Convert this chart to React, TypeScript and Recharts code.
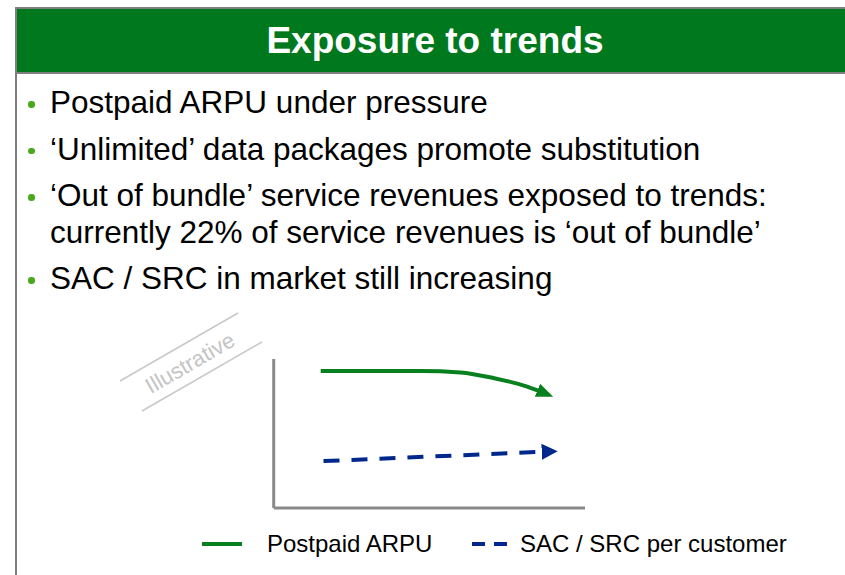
import { LineChart, Line, XAxis, YAxis } from "recharts"

// illustrative trend lines (0-100 scale)
const arpuX = [15.1, 47.2, 60.0, 70.5, 81.4, 88.3]
const arpuY = [92.0, 92.0, 91.0, 87.3, 81.5, 76.0]
const sacX = [16.0, 89.3]
const sacY = [31.5, 38.0]

const bullets = [
  ["Postpaid ARPU under pressure"],
  ["‘Unlimited’ data packages promote substitution"],
  ["‘Out of bundle’ service revenues exposed to trends:", "currently 22% of service revenues is ‘out of bundle’"],
  ["SAC / SRC in market still increasing"],
]

const legendLabels = ["Postpaid ARPU", "SAC / SRC per customer"]

// one table for the chart, each series filled only at its own x points
const chartData = [
  ...arpuX.map((x, i) => ({ x, arpu: arpuY[i] as number | null, sac: null as number | null })),
  ...sacX.map((x, i) => ({ x, arpu: null as number | null, sac: sacY[i] as number | null })),
].sort((a, b) => a.x - b.x)

const GREEN = "#00781e"
const LINE_GREEN = "#08801f"
const BLUE = "#00288c"
const AXIS = "#8a8a8a"
const FONT = "'Liberation Sans', Arial, sans-serif"

function Bullets() {
  const rows: { text: string; top: number; dot: boolean }[] = []
  let top = 84
  bullets.forEach((lines) => {
    lines.forEach((t, j) => {
      rows.push({ text: t, top, dot: j === 0 })
      top += 36.5
    })
    top += 10
  })
  return (
    <>
      {rows.map((r, i) => (
        <div key={i}>
          {r.dot && (
            <div
              style={{
                position: "absolute",
                left: 28,
                top: r.top + 17,
                width: 6.5,
                height: 6.5,
                borderRadius: "50%",
                background: "#4aa81c",
              }}
            />
          )}
          <div
            style={{
              position: "absolute",
              left: 50,
              top: r.top,
              fontSize: 31.5,
              lineHeight: "36px",
              whiteSpace: "nowrap",
              color: "#000",
            }}
          >
            {r.text}
          </div>
        </div>
      ))}
    </>
  )
}

function Illustrative() {
  return (
    <svg width={300} height={130} style={{ position: "absolute", left: 100, top: 300 }}>
      <g transform="translate(-100,-300)">
        <line x1={120} y1={381} x2={238} y2={313} stroke="#c8c8c8" strokeWidth={1.5} />
        <line x1={142} y1={411} x2={262} y2={342} stroke="#c8c8c8" strokeWidth={1.5} />
        <text
          x={190}
          y={363}
          transform="rotate(-30 190 363)"
          textAnchor="middle"
          dominantBaseline="central"
          fontFamily={FONT}
          fontSize={22}
          fill="#c4c4c4"
        >
          Illustrative
        </text>
      </g>
    </svg>
  )
}

function TrendLegend() {
  return (
    <svg width={845} height={575} style={{ position: "absolute", left: 0, top: 0 }}>
      <line x1={202} y1={544} x2={242} y2={544} stroke={LINE_GREEN} strokeWidth={4} />
      <line x1={472} y1={544} x2={507} y2={544} stroke={BLUE} strokeWidth={4} strokeDasharray="13 9" />
      <text x={267} y={552} fontFamily={FONT} fontSize={24} fill="#000">
        {legendLabels[0]}
      </text>
      <text x={520} y={552} fontFamily={FONT} fontSize={24} fill="#000">
        {legendLabels[1]}
      </text>
    </svg>
  )
}

export default function App() {
  return (
    <div
      style={{
        position: "absolute",
        left: 0,
        top: 0,
        width: 845,
        height: 575,
        overflow: "hidden",
        background: "#fff",
        fontFamily: FONT,
      }}
    >
      <svg width={0} height={0} style={{ position: "absolute" }}>
        <defs>
          <marker
            id="arrowGreen"
            markerUnits="userSpaceOnUse"
            markerWidth={20}
            markerHeight={20}
            viewBox="0 0 20 20"
            refX={12}
            refY={10}
            orient="auto"
          >
            <path d="M0,3 L17,10 L0,17 Z" fill={LINE_GREEN} />
          </marker>
          <marker
            id="arrowBlue"
            markerUnits="userSpaceOnUse"
            markerWidth={20}
            markerHeight={20}
            viewBox="0 0 20 20"
            refX={10}
            refY={10}
            orient="auto"
          >
            <path d="M0,2 L16,10 L0,18 Z" fill={BLUE} />
          </marker>
        </defs>
      </svg>

      {/* header frame */}
      <div style={{ position: "absolute", left: 15, top: 7, width: 2, height: 568, background: "#7f7f7f" }} />
      <div
        style={{
          position: "absolute",
          left: 15,
          top: 7,
          width: 840,
          height: 63,
          borderTop: "2px solid #7f7f7f",
          borderBottom: "2px solid #7f7f7f",
          borderLeft: "2px solid #7f7f7f",
          background: GREEN,
        }}
      />
      <div
        style={{
          position: "absolute",
          left: 17,
          top: 9,
          width: 836,
          height: 63,
          lineHeight: "63px",
          textAlign: "center",
          color: "#fff",
          fontWeight: "bold",
          fontSize: 37,
        }}
      >
        Exposure to trends
      </div>

      <Bullets />
      <Illustrative />

      <div style={{ position: "absolute", left: 180, top: 340 }}>
        <LineChart
          width={430}
          height={190}
          data={chartData}
          margin={{ top: 19, right: 25, bottom: 21, left: 92.7 }}
        >
          <XAxis
            type="number"
            dataKey="x"
            domain={[0, 100]}
            tick={false}
            height={1}
            axisLine={{ stroke: AXIS, strokeWidth: 3 }}
            tickLine={false}
          />
          <YAxis
            type="number"
            domain={[0, 100]}
            tick={false}
            width={1}
            axisLine={{ stroke: AXIS, strokeWidth: 3 }}
            tickLine={false}
          />
          <Line
            dataKey="arpu"
            type="monotone"
            stroke={LINE_GREEN}
            strokeWidth={4}
            dot={false}
            activeDot={false}
            connectNulls
            markerEnd="url(#arrowGreen)"
            isAnimationActive={false}
          />
          <Line
            dataKey="sac"
            type="linear"
            stroke={BLUE}
            strokeWidth={4}
            strokeDasharray="16 12"
            dot={false}
            activeDot={false}
            connectNulls
            markerEnd="url(#arrowBlue)"
            isAnimationActive={false}
          />
        </LineChart>
      </div>

      <TrendLegend />
    </div>
  )
}
